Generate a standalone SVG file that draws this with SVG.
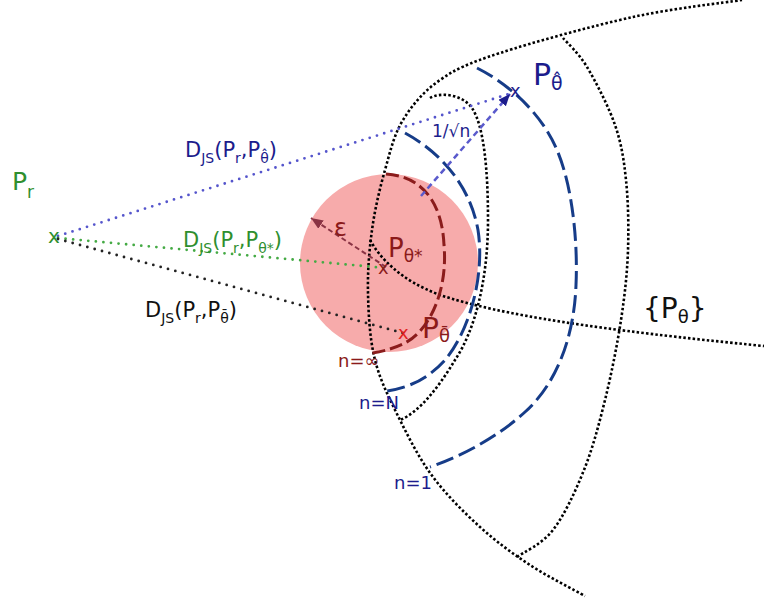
<svg xmlns="http://www.w3.org/2000/svg" width="764" height="602" viewBox="0 0 764 602">
<style>
text{font-family:"DejaVu Sans","Liberation Sans",sans-serif}
.dot{fill:none;stroke:#000;stroke-width:2.6;stroke-dasharray:2.5 2.2}
.pr{fill:none;stroke-width:2.8;stroke-linecap:round;stroke-dasharray:0 7.6}
.blue{fill:#1c1c8c}
.green{fill:#2f8f2f}
.dred{fill:#8b1a1a}
.bdash{fill:none;stroke:#163c88;stroke-width:3;stroke-dasharray:18 6}
.rdash{fill:none;stroke:#8b1c1c;stroke-width:3;stroke-dasharray:13 5}
.lbl{font-size:21px}
.sub{font-size:14px}
</style>
<defs>
<marker id="ah-blue" markerUnits="userSpaceOnUse" markerWidth="14" markerHeight="12" refX="12" refY="5" orient="auto"><path d="M0,0 L12,5 L0,10 Z" fill="#1c1c8c"/></marker>
<marker id="ah-red" markerUnits="userSpaceOnUse" markerWidth="14" markerHeight="12" refX="12" refY="5" orient="auto"><path d="M0,0 L12,5 L0,10 Z" fill="#8a3344"/></marker>
</defs>
<circle id="ball" cx="389" cy="263" r="89" fill="#f7abab"/>
<g id="manifold">
<path class="dot" d="M742,0 C723.8,2.8 673.3,8.2 633,17 C592.7,25.8 532.2,42.5 500,53 C467.8,63.5 456.2,68.8 440,80 C423.8,91.2 412.2,105 403,120 C393.8,135 390.2,151.7 385,170 C379.8,188.3 374.8,209.5 372,230 C369.2,250.5 367.5,271.3 368,293 C368.5,314.7 369.7,338.8 375,360 C380.3,381.2 390.3,400.5 400,420 C409.7,439.5 419.7,459.2 433,477 C446.3,494.8 463.8,512.3 480,527 C496.2,541.7 512.5,553.5 530,565 C547.5,576.5 575.8,590.8 585,596"/>
<path class="dot" d="M563,38 C567,42.8 578.3,52.5 587,67 C595.7,81.5 608.5,106.2 615,125 C621.5,143.8 623.8,159.2 626,180 C628.2,200.8 628.8,226.7 628,250 C627.2,273.3 624.8,295 621,320 C617.2,345 611.2,375 605,400 C598.8,425 592.7,448.3 584,470 C575.3,491.7 564.2,515.5 553,530 C541.8,544.5 523,552.5 517,557"/>
<path class="dot" d="M370,240 C380,258 400,280 440,295 C500,315 600,330 764,346"/>
<path class="dot" d="M430,98 C440,92 462,94 472,108 C484,126 488,170 488,220 C488,280 475,330 455,360 C440,385 420,412 400,420"/>
</g>
<g id="curves">
<path id="n-inf" class="rdash" d="M386,174 C420,176 442,200 444,245 C448,290 430,330 405,343 C395,348 385,351 372,353"/>
<path id="n-N" class="bdash" d="M405,133 C440,152 470,185 478,230 C485,275 470,330 445,360 C425,382 405,388 387,391"/>
<path id="n-1" class="bdash" d="M477,68 C505,82 540,110 557,150 C572,185 578,240 576,285 C574,340 555,385 525,412 C500,435 465,455 430,467"/>
</g>
<g id="connectors">
<line class="pr" x1="58" y1="236" x2="512" y2="93" stroke="#5555cc"/>
<line class="pr" x1="58" y1="238" x2="385" y2="268" stroke="#44aa44"/>
<line class="pr" x1="58" y1="239" x2="403" y2="333" stroke="#222"/>
<line x1="421" y1="196" x2="510" y2="94" stroke="#5a5acc" stroke-width="2.5" stroke-dasharray="6 4" marker-end="url(#ah-blue)"/>
<line x1="386" y1="267" x2="311" y2="218" stroke="#8a3344" stroke-width="2" stroke-dasharray="5 3" marker-end="url(#ah-red)"/>
</g>
<g id="Pr">
<text x="12" y="190" font-size="25" class="green">P<tspan font-size="17" dy="8">r</tspan></text>
<text x="48" y="243" font-size="20" class="green">x</text>
</g>
<g id="Ptheta-star">
<text x="378" y="274" font-size="18" class="dred">x</text>
<text x="388" y="257" font-size="26" class="dred">P<tspan font-size="17" dy="5">θ*</tspan></text>
</g>
<g id="Ptheta-bar">
<text x="398" y="339" font-size="18" fill="#e02020">x</text>
<text x="422" y="338" font-size="28" class="dred">P<tspan font-size="18" dy="4">θ̄</tspan></text>
</g>
<g id="Ptheta-hat">
<text x="510" y="97" font-size="18" class="blue">x</text>
<text x="533" y="85" font-size="30" class="blue">P<tspan font-size="19" dy="5">θ̂</tspan></text>
</g>
<g id="labels">
<text x="185" y="157" class="lbl blue">D<tspan class="sub" dy="6">JS</tspan><tspan dy="-6">(P</tspan><tspan class="sub" dy="6">r</tspan><tspan dy="-6">,P</tspan><tspan class="sub" dy="6">θ̂</tspan><tspan dy="-6">)</tspan></text>
<text x="183" y="247" class="lbl green">D<tspan class="sub" dy="6">JS</tspan><tspan dy="-6">(P</tspan><tspan class="sub" dy="6">r</tspan><tspan dy="-6">,P</tspan><tspan class="sub" dy="6">θ*</tspan><tspan dy="-6">)</tspan></text>
<text x="145" y="317" class="lbl" fill="#111">D<tspan class="sub" dy="6">JS</tspan><tspan dy="-6">(P</tspan><tspan class="sub" dy="6">r</tspan><tspan dy="-6">,P</tspan><tspan class="sub" dy="6">θ̄</tspan><tspan dy="-6">)</tspan></text>
<text x="334" y="236" font-size="24" class="dred">ε</text>
<text x="432" y="137" font-size="17" class="blue">1/√n</text>
<text x="643" y="318" font-size="28" fill="#111">{P<tspan font-size="18" dy="5">θ</tspan><tspan dy="-5">}</tspan></text>
<text x="338" y="367" font-size="18" class="dred">n=∞</text>
<text x="359" y="409" font-size="18" class="blue">n=N</text>
<text x="394" y="489" font-size="18" class="blue">n=1</text>
</g>
</svg>
